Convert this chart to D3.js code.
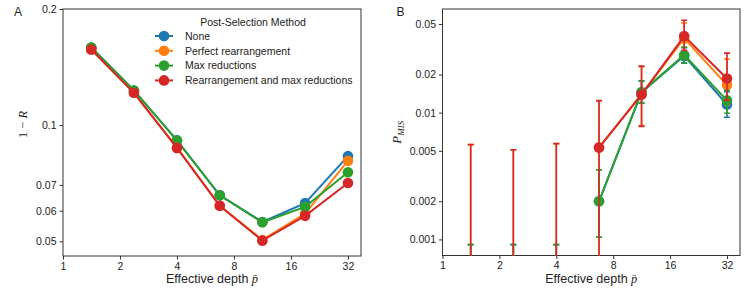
<!DOCTYPE html>
<html>
<head>
<meta charset="UTF-8">
<script src="https://d3js.org/d3.v7.min.js"></script>
<style>
  body { margin: 0; background: #fff; }
  svg { display: block; font-family: "Liberation Sans", Arial, sans-serif; }
  .math { font-family: "Liberation Serif", "DejaVu Serif", serif; font-style: italic; }
  .upright { font-family: "Liberation Serif", "DejaVu Serif", serif; font-style: normal; }
</style>
</head>
<body>
<svg id="chart" width="747" height="299"></svg>
<script>
// effective depth values (shared by both panels)
const depths = [1.41, 2.37, 4.0, 6.73, 11.3, 19.0, 32.0];

const methods = ["None", "Perfect rearrangement", "Max reductions", "Rearrangement and max reductions"];
const colors = ["#1f77b4", "#ff7f0e", "#2ca02c", "#d62728"];

// panel A: 1 - R
const aNone    = [0.159, 0.123, 0.0913, 0.0658, 0.0561, 0.0628, 0.0831];
const aPerfect = [0.157, 0.1213, 0.0873, 0.0618, 0.0504, 0.0590, 0.0808];
const aMax     = [0.159, 0.123, 0.0913, 0.0658, 0.0560, 0.0614, 0.0755];
const aRearr   = [0.157, 0.1213, 0.0873, 0.0618, 0.0502, 0.0582, 0.0708];

// panel B: P_MIS with asymmetric error bars (0 = not shown on log axis)
const bNone      = [0, 0, 0, 0.0020, 0.0145, 0.0280, 0.0116];
const bNoneLo    = [0, 0, 0, 0.00104, 0.0119, 0.0245, 0.0092];
const bNoneHi    = [0.00091, 0.00091, 0.00091, 0.00355, 0.0178, 0.0325, 0.0146];
const bPerfect   = [0, 0, 0, 0.0053, 0.0140, 0.0385, 0.0165];
const bPerfectLo = [0, 0, 0, 0, 0.0079, 0.030, 0.0115];
const bPerfectHi = [0.0056, 0.0051, 0.0057, 0.0124, 0.0230, 0.051, 0.0265];
const bMax       = [0, 0, 0, 0.0020, 0.0145, 0.0285, 0.0125];
const bMaxLo     = [0, 0, 0, 0.00104, 0.0119, 0.0247, 0.0099];
const bMaxHi     = [0.00091, 0.00091, 0.00091, 0.00355, 0.0178, 0.0329, 0.0150];
const bRearr     = [0, 0, 0, 0.0053, 0.0139, 0.0402, 0.0186];
const bRearrLo   = [0, 0, 0, 0, 0.0078, 0.031, 0.0125];
const bRearrHi   = [0.0056, 0.0051, 0.0057, 0.01245, 0.0233, 0.0536, 0.0295];

const xTicks = [1, 2, 4, 8, 16, 32];
const xTickLabels = ["1", "2", "4", "8", "16", "32"];
const aYTicks = [0.05, 0.06, 0.07, 0.1, 0.2];
const aYTickLabels = ["0.05", "0.06", "0.07", "0.1", "0.2"];
const bYTicks = [0.001, 0.002, 0.005, 0.01, 0.02, 0.05];
const bYTickLabels = ["0.001", "0.002", "0.005", "0.01", "0.02", "0.05"];

const svg = d3.select("#chart");
const frameColor = "#333";

function panel(opts) {
  const g = svg.append("g").attr("transform", `translate(${opts.left},${opts.top})`);
  const w = opts.width, h = opts.height;
  const x = d3.scaleLog().domain([1, 37.5]).range([0, w]);
  const y = d3.scaleLog().domain(opts.yDomain).range([h, 0]);

  const clipId = "clip" + opts.name;
  g.append("clipPath").attr("id", clipId).append("rect")
    .attr("x", 0).attr("y", 0).attr("width", w).attr("height", h);

  const xAxis = g.append("g").attr("transform", `translate(0,${h})`)
    .call(d3.axisBottom(x).tickValues(xTicks).tickFormat((d, i) => xTickLabels[i])
      .tickSize(3.5).tickPadding(3).tickSizeOuter(0));
  const yAxis = g.append("g")
    .call(d3.axisLeft(y).tickValues(opts.yTicks).tickFormat((d, i) => opts.yTickLabels[i])
      .tickSize(3.5).tickPadding(3).tickSizeOuter(0));
  [xAxis, yAxis].forEach(a => {
    a.select(".domain").remove();
    a.selectAll("line").attr("stroke", frameColor);
    a.selectAll("text").attr("fill", "#222").style("font-size", "10.5px")
      .style("font-family", "'Liberation Sans', Arial, sans-serif");
  });

  g.append("rect").attr("width", w).attr("height", h)
    .attr("fill", "none").attr("stroke", frameColor).attr("stroke-width", 1);

  const plot = g.append("g").attr("clip-path", `url(#${clipId})`);
  const line = d3.line().defined(d => d.v > 0).x(d => x(d.x)).y(d => y(d.v));

  opts.series.forEach((s, k) => {
    const pts = depths.map((d, i) => ({
      x: d, v: s.values[i],
      lo: s.lo ? s.lo[i] : null, hi: s.hi ? s.hi[i] : null
    }));
    const c = colors[k];
    if (s.lo) {
      const bottom = h + 20;
      pts.filter(p => p.hi > 0).forEach(p => {
        const yHi = y(p.hi);
        const yLo = p.lo > 0 ? y(p.lo) : bottom;
        const xp = x(p.x);
        plot.append("line").attr("x1", xp).attr("x2", xp).attr("y1", yHi).attr("y2", yLo)
          .attr("stroke", c).attr("stroke-width", 1.6);
        plot.append("line").attr("x1", xp - 3).attr("x2", xp + 3).attr("y1", yHi).attr("y2", yHi)
          .attr("stroke", c).attr("stroke-width", 1.6);
        if (p.lo > 0) {
          plot.append("line").attr("x1", xp - 3).attr("x2", xp + 3).attr("y1", yLo).attr("y2", yLo)
            .attr("stroke", c).attr("stroke-width", 1.6);
        }
      });
    }
    plot.append("path").datum(pts).attr("d", line)
      .attr("fill", "none").attr("stroke", c).attr("stroke-width", 2);
    plot.selectAll(null).data(pts.filter(p => p.v > 0)).enter().append("circle")
      .attr("cx", p => x(p.x)).attr("cy", p => y(p.v)).attr("r", 5.3).attr("fill", c);
  });

  // x label
  const xl = g.append("text").attr("x", w / 2).attr("y", h + 27)
    .attr("text-anchor", "middle").attr("fill", "#222").style("font-size", "12.5px");
  xl.append("tspan").text("Effective depth ");
  xl.append("tspan").attr("class", "math").text("p\u0304");

  // panel letter
  g.append("text").attr("x", opts.letterX).attr("y", 7).attr("fill", "#222")
    .style("font-size", "12px").text(opts.letter);

  return { g, x, y, w, h };
}

const A = panel({
  name: "A", left: 63, top: 9, width: 298, height: 247,
  yDomain: [0.0458, 0.2], yTicks: aYTicks, yTickLabels: aYTickLabels,
  letter: "A", letterX: -49,
  series: [
    { values: aNone }, { values: aPerfect }, { values: aMax }, { values: aRearr }
  ]
});

const B = panel({
  name: "B", left: 442.5, top: 9, width: 297.5, height: 246.5,
  yDomain: [0.000747, 0.0657], yTicks: bYTicks, yTickLabels: bYTickLabels,
  letter: "B", letterX: -46,
  series: [
    { values: bNone, lo: bNoneLo, hi: bNoneHi },
    { values: bPerfect, lo: bPerfectLo, hi: bPerfectHi },
    { values: bMax, lo: bMaxLo, hi: bMaxHi },
    { values: bRearr, lo: bRearrLo, hi: bRearrHi }
  ]
});

// y labels
const ylA = A.g.append("text").attr("transform", `translate(-36,${A.h / 2 - 8}) rotate(-90)`)
  .attr("text-anchor", "middle").attr("fill", "#222").style("font-size", "12.5px");
ylA.append("tspan").attr("class", "upright").text("1 \u2212 ");
ylA.append("tspan").attr("class", "math").text("R");

const ylB = B.g.append("text").attr("transform", `translate(-42,${B.h / 2}) rotate(-90)`)
  .attr("text-anchor", "middle").attr("fill", "#222").style("font-size", "13px")
  .attr("class", "math");
ylB.append("tspan").text("P");
ylB.append("tspan").attr("dy", 3).style("font-size", "9px").text("MIS");

// legend in panel A
const leg = A.g.append("g").attr("transform", "translate(92,0)");
leg.append("text").attr("x", 98).attr("y", 16.5).attr("text-anchor", "middle")
  .attr("fill", "#222").style("font-size", "10.5px").text("Post-Selection Method");
methods.forEach((m, i) => {
  const yy = 27 + i * 14.8;
  leg.append("line").attr("x1", 0).attr("x2", 18).attr("y1", yy).attr("y2", yy)
    .attr("stroke", colors[i]).attr("stroke-width", 2);
  leg.append("circle").attr("cx", 9).attr("cy", yy).attr("r", 5.3).attr("fill", colors[i]);
  leg.append("text").attr("x", 30).attr("y", yy + 3.7).attr("fill", "#222")
    .style("font-size", "10.5px").text(m);
});
</script>
</body>
</html>
